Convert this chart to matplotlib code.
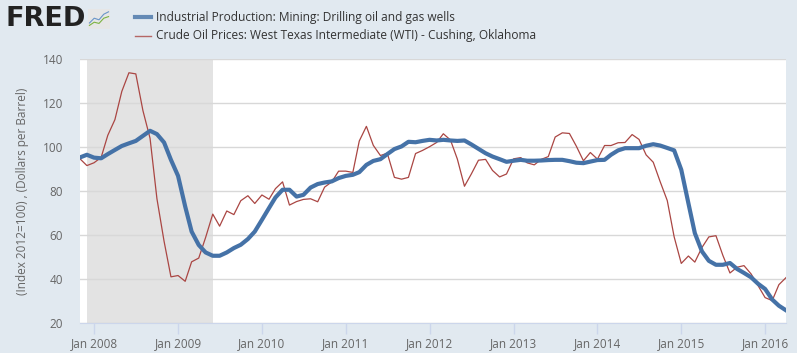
#! /usr/bin/env python3
# FRED style chart: drilling production index vs WTI crude price

import numpy as np
import pandas as pd
import matplotlib
matplotlib.use("Agg")
from matplotlib import pyplot as plt
import matplotlib.dates as mdates

# monthly series, Nov 2007 .. Apr 2016
months = pd.date_range("2007-11-01", "2016-04-01", freq="MS")

drilling = [
    95.4, 96.6, 95.3, 95.0, 96.9, 98.8, 100.6, 101.8, 102.9, 105.2,
    107.5, 106.0, 102.2, 94.3, 87.0, 73.1, 61.7, 55.6, 52.2, 50.7,
    50.7, 52.2, 54.2, 55.7, 58.3, 61.7, 67.0, 72.4, 77.2, 80.7,
    80.7, 77.6, 78.4, 81.7, 83.3, 84.0, 84.5, 86.0, 87.0, 87.5,
    88.7, 92.0, 93.8, 94.6, 96.9, 99.2, 100.4, 102.5, 102.3, 102.9,
    103.4, 103.1, 103.4, 103.1, 102.9, 103.1, 101.3, 99.3, 97.3, 95.8,
    94.6, 93.4, 93.9, 94.3, 93.9, 93.9, 94.0, 94.2, 94.3, 94.3,
    93.7, 93.0, 92.8, 93.5, 94.2, 94.3, 96.6, 98.6, 99.6, 99.6,
    99.6, 100.7, 101.4, 100.8, 99.7, 98.6, 89.8, 74.6, 61.0, 52.7,
    48.4, 46.6, 46.6, 47.4, 44.7, 42.9, 40.9, 38.0, 35.6, 30.8,
    28.0, 25.9,
]

wti = [
    94.77, 91.69, 92.97, 95.39, 105.45, 112.58, 125.40, 133.88, 133.37, 116.67,
    104.11, 76.61, 57.31, 41.12, 41.71, 39.09, 47.94, 49.65, 59.03, 69.64,
    64.15, 71.05, 69.41, 75.72, 77.99, 74.47, 78.33, 76.39, 81.20, 84.29,
    73.74, 75.34, 76.32, 76.60, 75.24, 81.89, 84.25, 89.15, 89.17, 88.58,
    102.86, 109.53, 100.90, 96.26, 97.30, 86.33, 85.52, 86.32, 97.16, 98.56,
    100.27, 102.20, 106.16, 103.32, 94.66, 82.30, 87.90, 94.13, 94.51, 89.49,
    86.53, 87.86, 94.76, 95.31, 92.94, 92.02, 94.51, 95.77, 104.67, 106.57,
    106.29, 100.54, 93.86, 97.63, 94.62, 100.82, 100.80, 102.07, 102.18, 105.79,
    103.59, 96.54, 93.21, 84.40, 75.79, 59.29, 47.22, 50.58, 47.82, 54.45,
    59.27, 59.82, 50.90, 42.87, 45.48, 46.22, 42.44, 37.19, 31.68, 30.32,
    37.55, 40.75,
]

recession = (pd.Timestamp("2007-12-01"), pd.Timestamp("2009-06-01"))

label_drill = "Industrial Production: Mining: Drilling oil and gas wells"
label_wti = "Crude Oil Prices: West Texas Intermediate (WTI) - Cushing, Oklahoma"
y_label = "(Index 2012=100) , (Dollars per Barrel)"

bg = "#e1e9f0"
blue = "#4572a7"
red = "#aa4643"
grey_txt = "#666666"

plt.rcParams["font.family"] = ["Open Sans", "DejaVu Sans"]

fig = plt.figure(figsize=(7.97, 3.53), dpi=100, facecolor=bg)
ax = fig.add_axes([80 / 797, 1 - 323.3 / 353, 706 / 797, 264 / 353])
ax.set_facecolor("white")

ax.axvspan(recession[0], recession[1], color="#e3e3e3", lw=0, zorder=0)
ax.plot(months, drilling, color=blue, lw=3.0, solid_joinstyle="round", zorder=3)
ax.plot(months, wti, color=red, lw=0.9, zorder=2)

ax.set_xlim(months[0], months[-1])
ax.set_ylim(20, 140)
ax.set_yticks(np.arange(20, 141, 20))
ax.grid(axis="y", color="#d8d8d8", lw=1)
ax.set_axisbelow(True)

ax.xaxis.set_major_locator(mdates.YearLocator(month=1, day=1))
ax.xaxis.set_major_formatter(mdates.DateFormatter("Jan %Y"))

for s in ["top", "right", "left"]:
    ax.spines[s].set_visible(False)
ax.spines["bottom"].set_color("#ccd6eb")
ax.tick_params(axis="x", colors="#ccd6eb", length=8, width=1, labelcolor=grey_txt,
               labelsize=8.5, pad=2)
ax.tick_params(axis="y", length=0, labelcolor=grey_txt, labelsize=8.5, pad=12)
ax.set_ylabel(y_label, color=grey_txt, fontsize=8.5, labelpad=10)

# header: FRED logo + legend
fig.text(6 / 797, 1 - 19.5 / 353, "FRED", fontsize=19.5, fontweight="bold",
         family="DejaVu Sans", color="#222222", va="center", ha="left")
icon = fig.add_axes([88 / 797, 1 - 29 / 353, 22 / 797, 20 / 353])
icon.set_facecolor("#e6e6e6")
icon.plot([0, 1, 2, 3, 4], [1, 2.2, 1.8, 3.2, 3.8], color="#6a95c8", lw=0.8)
icon.plot([0, 1, 2, 3, 4], [0.4, 1.2, 0.9, 2.2, 2.6], color="#7cb342", lw=0.8)
icon.set_xlim(-0.3, 4.3)
icon.set_ylim(-0.5, 4.5)
icon.set_xticks([])
icon.set_yticks([])
for s in icon.spines.values():
    s.set_visible(False)

legend_rows = [(label_drill, blue, 3.0, 17), (label_wti, red, 1.0, 36)]
for text, col, lw, ypix in legend_rows:
    yy = 1 - ypix / 353
    fig.add_artist(plt.Line2D([135 / 797, 151 / 797], [yy, yy], color=col, lw=lw,
                              alpha=0.8, transform=fig.transFigure))
    fig.text(156 / 797, yy, text, fontsize=8.6, color="#333333", va="center", ha="left")

fig.savefig("out.png", dpi=100, facecolor=bg)
